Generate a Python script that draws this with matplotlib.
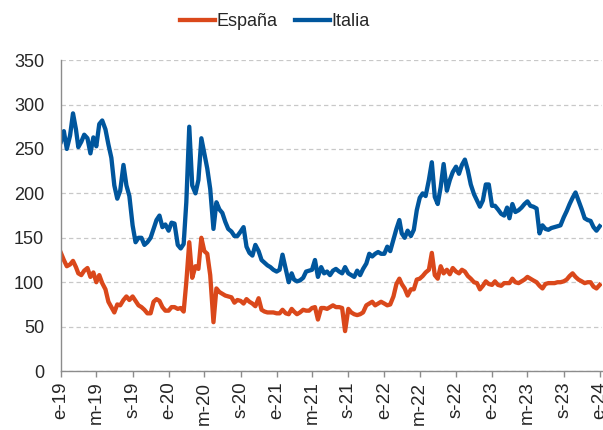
import matplotlib
matplotlib.use('Agg')
import matplotlib.pyplot as plt
import pandas as pd

plt.rcParams['font.family'] = ['Liberation Sans', 'DejaVu Sans']

# fechas: dias 1, 11 y 21 de cada mes, ene-2019 a ene-2024
fechas = [pd.Timestamp(a, m, d) for a in range(2019, 2024)
          for m in range(1, 13) for d in (1, 11, 21)] + [pd.Timestamp(2024, 1, 1)]

# prima de riesgo (pb)
espana = [
    133, 125, 118, 120, 124, 117, 110, 108, 113, 116, 106, 111,
    100, 108, 99, 92, 78, 72, 66, 75, 74, 80, 84, 80,
    84, 79, 74, 72, 69, 65, 65, 78, 81, 79, 72, 68,     # 2019
    68, 72, 72, 70, 71, 67, 100, 145, 105, 118, 115, 150,
    135, 132, 108, 55, 93, 89, 87, 85, 84, 83, 77, 80,
    79, 76, 81, 78, 76, 73, 82, 69, 67, 66, 66, 66,     # 2020
    65, 65, 69, 65, 64, 70, 67, 64, 66, 69, 68, 68,
    71, 72, 58, 71, 71, 70, 72, 74, 72, 72, 71, 45,
    70, 66, 64, 63, 64, 66, 74, 76, 78, 74, 76, 78,     # 2021
    76, 74, 75, 84, 98, 104, 98, 93, 85, 92, 92, 103,
    104, 107, 111, 114, 133, 108, 104, 118, 110, 114, 109, 116,
    112, 110, 114, 112, 107, 104, 100, 99, 92, 96, 101, 98,   # 2022
    97, 101, 97, 96, 99, 99, 99, 104, 100, 99, 101, 103,
    106, 104, 102, 100, 96, 93, 98, 99, 99, 99, 100, 100,
    101, 103, 107, 110, 106, 103, 101, 99, 100, 100, 95, 93,  # 2023
    97]
italia = [
    258, 270, 250, 265, 290, 272, 252, 258, 266, 262, 245, 263,
    253, 278, 282, 272, 255, 240, 209, 194, 203, 232, 209, 197,
    164, 145, 150, 150, 142, 145, 150, 160, 170, 175, 162, 165,   # 2019
    158, 167, 166, 142, 138, 143, 190, 275, 209, 200, 215, 262,
    245, 228, 205, 160, 190, 182, 178, 168, 160, 157, 152, 152,
    157, 162, 140, 133, 130, 142, 135, 125, 122, 119, 117, 114,   # 2020
    112, 114, 131, 115, 100, 110, 103, 101, 102, 105, 112, 113,
    114, 125, 106, 117, 110, 112, 108, 113, 115, 112, 110, 117,
    110, 108, 106, 113, 108, 115, 121, 132, 129, 132, 134, 132,   # 2021
    132, 140, 135, 148, 160, 170, 155, 150, 158, 152, 159, 181,
    195, 200, 197, 215, 235, 196, 188, 207, 233, 203, 215, 224,
    230, 222, 232, 238, 226, 210, 199, 192, 185, 192, 210, 210,   # 2022
    186, 186, 182, 177, 175, 184, 172, 188, 179, 181, 184, 188,
    191, 186, 185, 183, 155, 164, 160, 159, 161, 162, 163, 164,
    173, 180, 188, 195, 201, 192, 182, 172, 170, 169, 162, 158,   # 2023
    163]

ticks_x = [pd.Timestamp(a, m, 1) for a in range(2019, 2024) for m in (1, 5, 9)] + [pd.Timestamp(2024, 1, 1)]
etiquetas_x = ['e-19', 'm-19', 's-19', 'e-20', 'm-20', 's-20', 'e-21', 'm-21', 's-21',
               'e-22', 'm-22', 's-22', 'e-23', 'm-23', 's-23', 'e-24']
ticks_y = [0, 50, 100, 150, 200, 250, 300, 350]

naranja = '#DA481B'
azul = '#00569D'
gris_txt = '#262626'

fig = plt.figure(figsize=(6.03, 4.30), dpi=100)
ax = fig.add_axes([0.101, 0.137, 0.897, 0.7233])

ax.plot(fechas, espana, color=naranja, lw=3.1, label='España', solid_joinstyle='round')
ax.plot(fechas, italia, color=azul, lw=3.1, label='Italia', solid_joinstyle='round')

ax.set_ylim(0, 350)
ax.set_xlim(pd.Timestamp(2019, 1, 1), pd.Timestamp(2024, 1, 8))
ax.set_yticks(ticks_y)
ax.set_xticks(ticks_x)
ax.set_xticklabels(etiquetas_x, rotation=90)

ax.grid(axis='y', color='#c8c8c8', lw=0.9, linestyle=(0, (3.5, 2.5)))
ax.set_axisbelow(True)
for s in ['top', 'right']:
    ax.spines[s].set_visible(False)
for s in ['left', 'bottom']:
    ax.spines[s].set_color('#8c8c8c')
    ax.spines[s].set_linewidth(1.0)

ax.tick_params(axis='y', length=0, pad=12, labelsize=13, labelcolor=gris_txt)
ax.tick_params(axis='x', length=4.5, width=1.0, color='#8c8c8c', pad=3,
               labelsize=13.5, labelcolor=gris_txt)

fig.legend(loc='center', bbox_to_anchor=(0.456, 0.949), ncol=2, frameon=False,
           fontsize=13, handlelength=1.9, handletextpad=0.1, columnspacing=1.0,
           labelcolor=gris_txt)

fig.savefig('out.png', dpi=100)
